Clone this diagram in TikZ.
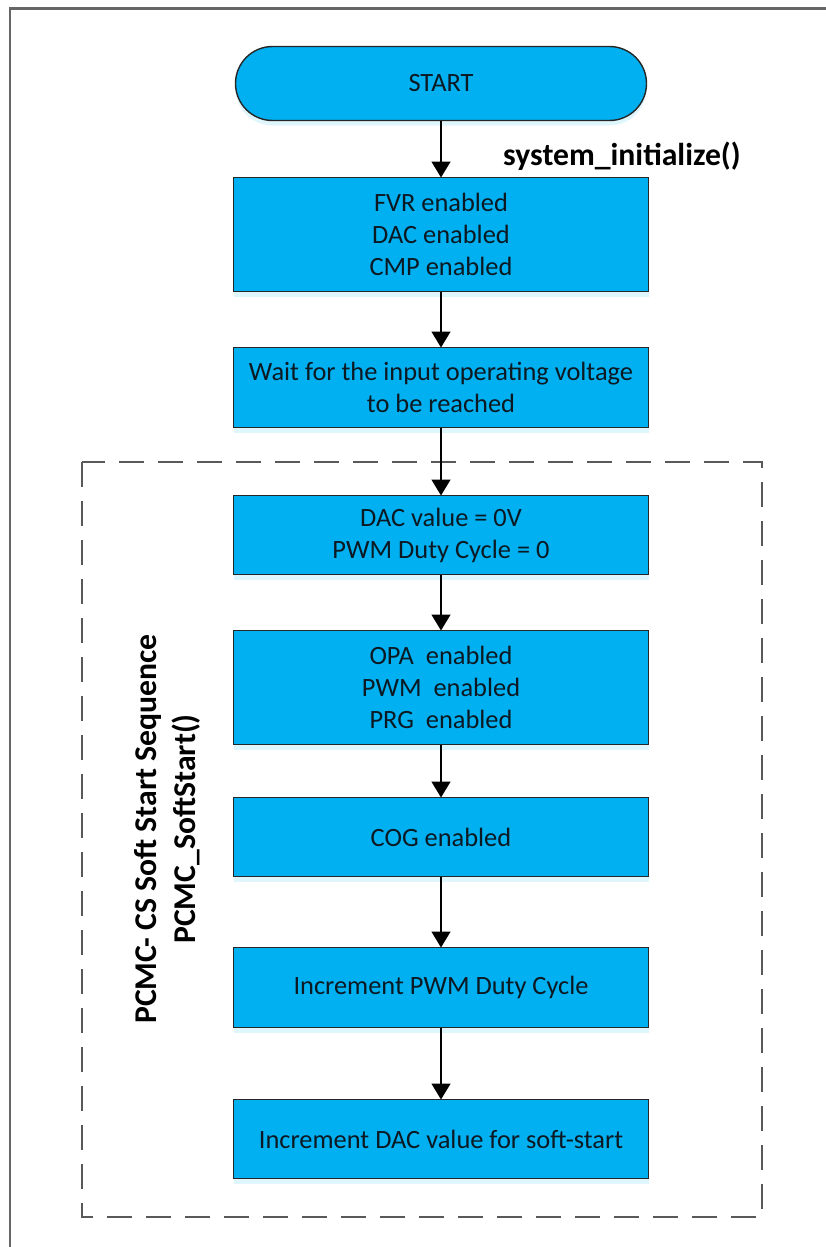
\documentclass[tikz,border=0pt]{standalone}
\usepackage{fontspec}
\setmainfont{Carlito}
\usetikzlibrary{shapes.misc,arrows.meta,positioning,shadows}

\definecolor{boxblue}{RGB}{0,176,240}
\definecolor{textdark}{RGB}{12,24,34}

\begin{document}
\begin{tikzpicture}[
    x=1pt, y=-1pt,
    every node/.style={font=\fontsize{26.4}{32}\selectfont, text=textdark},
    procbox/.style={rectangle, draw=black!85, line width=1.4pt, fill=boxblue,
        minimum width=415pt, align=center, inner sep=2pt, outer sep=0pt,
        drop shadow={shadow xshift=0pt, shadow yshift=-5pt, fill=boxblue!12, opacity=1}},
    startbox/.style={procbox, rounded rectangle, minimum height=74pt},
    flowarrow/.style={-{Triangle[length=16pt,width=19pt]}, line width=1.6pt},
    sectframe/.style={draw=black!65, line width=1.5pt, dash pattern=on 25pt off 14pt},
    boldlabel/.style={font=\fontsize{31.7}{39}\selectfont\bfseries, text=black, inner sep=0pt, align=center}
]
\useasboundingbox (0,0) rectangle (826,1247);

% outer frame, cut by the page edge
\draw[line width=2.8pt, black!60] (10,1247) -- (10,8.5) -- (826,8.5);

% dashed frame round the soft start part
\draw[sectframe] (82,462) rectangle (762,1217);

\node[startbox] (start) at (441,83.5) {START};
\node[procbox, minimum height=114pt, below=57pt of start] (init) {FVR enabled\\DAC enabled\\CMP enabled};
\node[procbox, minimum height=80pt, below=56pt of init] (wait) {Wait for the input operating voltage\\to be reached};
\node[procbox, minimum height=79pt, below=68pt of wait] (daczero) {DAC value = 0V\\PWM Duty Cycle = 0};
\node[procbox, minimum height=114pt, below=56pt of daczero] (periph) {OPA\ \ enabled\\PWM\ \ enabled\\PRG\ \ enabled};
\node[procbox, minimum height=79pt, below=53pt of periph] (cog) {COG enabled};
\node[procbox, minimum height=80pt, below=71pt of cog] (incpwm) {Increment PWM Duty Cycle};
\node[procbox, minimum height=79pt, below=72pt of incpwm] (incdac) {Increment DAC value for soft-start};

% labels
\node[boldlabel, anchor=west] (call) at (503,156) {system\_initialize()};
\node[boldlabel, rotate=90] (seq) at (167,829) {PCMC- CS Soft Start Sequence\\PCMC\_SoftStart()};

% arrows
\draw[flowarrow] (start) -- (init);
\draw[flowarrow] (init) -- (wait);
\draw[flowarrow] (wait) -- (daczero);
\draw[flowarrow] (daczero) -- (periph);
\draw[flowarrow] (periph) -- (cog);
\draw[flowarrow] (cog) -- (incpwm);
\draw[flowarrow] (incpwm) -- (incdac);
\end{tikzpicture}
\end{document}
